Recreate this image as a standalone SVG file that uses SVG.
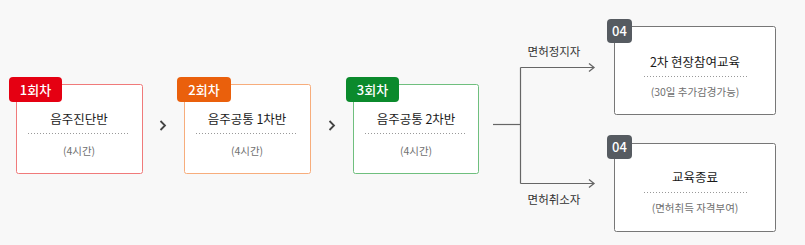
<svg xmlns="http://www.w3.org/2000/svg" width="805" height="245" viewBox="0 0 805 245">
<style>
text{font-family:"Noto Sans CJK KR","Noto Sans",sans-serif}
.box{fill:#fff;stroke-width:1}
.title{font-size:12.5px;fill:#1a1a1a;text-anchor:middle}
.sub{font-size:10.5px;fill:#707070;text-anchor:middle}
.badge{font-size:13px;fill:#fff;text-anchor:middle;font-weight:500}
.dot{stroke:#999;stroke-width:1;stroke-dasharray:1 2}
.lbl{font-size:11.5px;fill:#333;text-anchor:middle}
.conn{fill:none;stroke:#666;stroke-width:1.2}
.chev{fill:none;stroke:#444;stroke-width:1.8}
</style>
<defs>
<marker id="arr" markerWidth="8" markerHeight="10" refX="6" refY="5" orient="auto" markerUnits="userSpaceOnUse">
<path d="M1,1 L6,5 L1,9" fill="none" stroke="#666" stroke-width="1.3"/>
</marker>
</defs>
<rect width="805" height="245" fill="#f8f8f8"/>

<g id="step1">
<rect class="box" x="16.5" y="84.5" width="126" height="89" rx="2" stroke="#f07a7a"/>
<rect x="9" y="77" width="53" height="25" rx="4" fill="#e50012"/>
<text class="badge" x="35.5" y="94.5">1회차</text>
<text class="title" x="79" y="123.5">음주진단반</text>
<line class="dot" x1="28" y1="133.5" x2="130" y2="133.5"/>
<text class="sub" x="79" y="155">(4시간)</text>
</g>

<g id="step2">
<rect class="box" x="184.5" y="84.5" width="126" height="89" rx="2" stroke="#f7ad7c"/>
<rect x="177" y="77" width="54" height="25" rx="4" fill="#ea600c"/>
<text class="badge" x="204" y="94.5">2회차</text>
<text class="title" x="247" y="123.5">음주공통 1차반</text>
<line class="dot" x1="196" y1="133.5" x2="298" y2="133.5"/>
<text class="sub" x="247" y="155">(4시간)</text>
</g>

<g id="step3">
<rect class="box" x="353.5" y="84.5" width="125" height="89" rx="2" stroke="#6fbf7e"/>
<rect x="346" y="77" width="53" height="25" rx="4" fill="#0b8a2c"/>
<text class="badge" x="372.5" y="94.5">3회차</text>
<text class="title" x="416" y="123.5">음주공통 2차반</text>
<line class="dot" x1="365" y1="133.5" x2="467" y2="133.5"/>
<text class="sub" x="416" y="155">(4시간)</text>
</g>

<g id="result1">
<rect class="box" x="614.5" y="26.5" width="161" height="88" rx="2" stroke="#777"/>
<rect x="607" y="19" width="25" height="24" rx="4" fill="#565b61"/>
<text class="badge" x="619.5" y="36">04</text>
<text class="title" x="695" y="66.5">2차 현장참여교육</text>
<line class="dot" x1="644" y1="76.5" x2="747" y2="76.5"/>
<text class="sub" x="695" y="96">(30일 추가감경가능)</text>
</g>

<g id="result2">
<rect class="box" x="614.5" y="143.5" width="161" height="88" rx="2" stroke="#777"/>
<rect x="607" y="135" width="25" height="24" rx="4" fill="#565b61"/>
<text class="badge" x="619.5" y="152">04</text>
<text class="title" x="695" y="181.5">교육종료</text>
<line class="dot" x1="644" y1="192.5" x2="747" y2="192.5"/>
<text class="sub" x="695" y="212">(면허취득 자격부여)</text>
</g>

<g id="connectors">
<path class="chev" d="M160.5,121 L165,125.5 L160.5,130"/>
<path class="chev" d="M329.5,121 L334,125.5 L329.5,130"/>
<path class="conn" d="M493,124.5 L520.5,124.5"/>
<path class="conn" d="M520.5,67.5 L520.5,183.5"/>
<path class="conn" d="M520.5,67.5 L594,67.5" marker-end="url(#arr)"/>
<path class="conn" d="M520.5,183.5 L594,183.5" marker-end="url(#arr)"/>
<text class="lbl" x="554" y="56">면허정지자</text>
<text class="lbl" x="554" y="204">면허취소자</text>
</g>
</svg>
